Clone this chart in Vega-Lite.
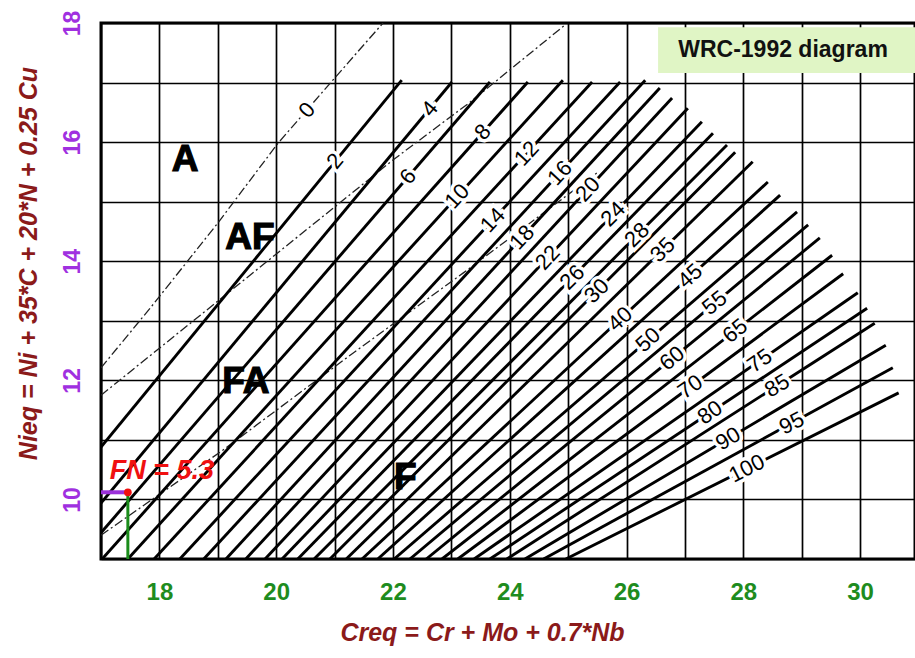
{
  "$schema": "https://vega.github.io/schema/vega-lite/v6.json",
  "width": 814,
  "height": 536,
  "autosize": {"type": "none"},
  "padding": {"left": 101, "top": 23, "right": 0, "bottom": 99},
  "background": "white",
  "config": {
    "view": {"stroke": "black", "strokeWidth": 3},
    "text": {"font": "Liberation Sans"}
  },
  "datasets": {
    "fnlines": [
      {"fn": 2, "Creq": 17.0, "Nieq": 10.88}, {"fn": 2, "Creq": 22.15, "Nieq": 17.04},
      {"fn": 4, "Creq": 17.0, "Nieq": 9.94}, {"fn": 4, "Creq": 23.01, "Nieq": 17.01},
      {"fn": 6, "Creq": 17.0, "Nieq": 9.44}, {"fn": 6, "Creq": 23.66, "Nieq": 17.01},
      {"fn": 8, "Creq": 17.02, "Nieq": 9.0}, {"fn": 8, "Creq": 24.31, "Nieq": 17.01},
      {"fn": 10, "Creq": 17.46, "Nieq": 9.0}, {"fn": 10, "Creq": 24.91, "Nieq": 17.04},
      {"fn": 12, "Creq": 17.91, "Nieq": 9.0}, {"fn": 12, "Creq": 25.41, "Nieq": 17.01},
      {"fn": 14, "Creq": 18.35, "Nieq": 9.0}, {"fn": 14, "Creq": 25.89, "Nieq": 17.01},
      {"fn": 16, "Creq": 18.76, "Nieq": 9.0}, {"fn": 16, "Creq": 26.32, "Nieq": 17.04},
      {"fn": 18, "Creq": 19.14, "Nieq": 9.0}, {"fn": 18, "Creq": 26.57, "Nieq": 16.91},
      {"fn": 20, "Creq": 19.48, "Nieq": 9.0}, {"fn": 20, "Creq": 26.78, "Nieq": 16.74},
      {"fn": 22, "Creq": 19.81, "Nieq": 9.0}, {"fn": 22, "Creq": 27.05, "Nieq": 16.57},
      {"fn": 24, "Creq": 20.10, "Nieq": 9.0}, {"fn": 24, "Creq": 27.29, "Nieq": 16.34},
      {"fn": 26, "Creq": 20.37, "Nieq": 9.0}, {"fn": 26, "Creq": 27.48, "Nieq": 16.15},
      {"fn": 28, "Creq": 20.65, "Nieq": 9.0}, {"fn": 28, "Creq": 27.72, "Nieq": 15.95},
      {"fn": 30, "Creq": 20.92, "Nieq": 9.0}, {"fn": 30, "Creq": 27.86, "Nieq": 15.83},
      {"fn": 35, "Creq": 21.20, "Nieq": 9.0}, {"fn": 35, "Creq": 28.16, "Nieq": 15.67},
      {"fn": 40, "Creq": 21.47, "Nieq": 9.0}, {"fn": 40, "Creq": 28.42, "Nieq": 15.33},
      {"fn": 45, "Creq": 21.74, "Nieq": 9.0}, {"fn": 45, "Creq": 28.63, "Nieq": 15.11},
      {"fn": 50, "Creq": 22.02, "Nieq": 9.0}, {"fn": 50, "Creq": 28.92, "Nieq": 14.83},
      {"fn": 55, "Creq": 22.29, "Nieq": 9.0}, {"fn": 55, "Creq": 29.11, "Nieq": 14.61},
      {"fn": 60, "Creq": 22.57, "Nieq": 9.0}, {"fn": 60, "Creq": 29.31, "Nieq": 14.39},
      {"fn": 65, "Creq": 22.84, "Nieq": 9.0}, {"fn": 65, "Creq": 29.52, "Nieq": 14.10},
      {"fn": 70, "Creq": 23.11, "Nieq": 9.0}, {"fn": 70, "Creq": 29.71, "Nieq": 13.79},
      {"fn": 75, "Creq": 23.39, "Nieq": 9.0}, {"fn": 75, "Creq": 29.96, "Nieq": 13.47},
      {"fn": 80, "Creq": 23.66, "Nieq": 9.0}, {"fn": 80, "Creq": 30.12, "Nieq": 13.21},
      {"fn": 85, "Creq": 23.95, "Nieq": 9.0}, {"fn": 85, "Creq": 30.25, "Nieq": 12.96},
      {"fn": 90, "Creq": 24.26, "Nieq": 9.0}, {"fn": 90, "Creq": 30.44, "Nieq": 12.59},
      {"fn": 95, "Creq": 24.58, "Nieq": 9.0}, {"fn": 95, "Creq": 30.56, "Nieq": 12.21},
      {"fn": 100, "Creq": 24.96, "Nieq": 9.0}, {"fn": 100, "Creq": 30.66, "Nieq": 11.79}
    ],
    "bounds": [
      {"b": "FN0", "Creq": 17.0, "Nieq": 12.21},
      {"b": "FN0", "Creq": 17.84, "Nieq": 13.21},
      {"b": "FN0", "Creq": 19.0, "Nieq": 14.64},
      {"b": "FN0", "Creq": 20.03, "Nieq": 15.98},
      {"b": "FN0", "Creq": 20.97, "Nieq": 17.04},
      {"b": "FN0", "Creq": 21.83, "Nieq": 18.0},
      {"b": "AF-FA", "Creq": 17.0, "Nieq": 11.75},
      {"b": "AF-FA", "Creq": 19.38, "Nieq": 13.63},
      {"b": "AF-FA", "Creq": 22.0, "Nieq": 15.7},
      {"b": "AF-FA", "Creq": 23.32, "Nieq": 16.67},
      {"b": "AF-FA", "Creq": 24.95, "Nieq": 17.97},
      {"b": "FA-F", "Creq": 17.0, "Nieq": 9.4},
      {"b": "FA-F", "Creq": 19.09, "Nieq": 10.83},
      {"b": "FA-F", "Creq": 21.32, "Nieq": 12.46},
      {"b": "FA-F", "Creq": 23.2, "Nieq": 13.8},
      {"b": "FA-F", "Creq": 25.49, "Nieq": 15.48}
    ],
    "labels": [
      {"fn": 0, "Creq": 20.53, "Nieq": 16.54},
      {"fn": 2, "Creq": 21.01, "Nieq": 15.68},
      {"fn": 4, "Creq": 22.63, "Nieq": 16.56},
      {"fn": 6, "Creq": 22.26, "Nieq": 15.42},
      {"fn": 8, "Creq": 23.54, "Nieq": 16.17},
      {"fn": 10, "Creq": 23.10, "Nieq": 15.09},
      {"fn": 12, "Creq": 24.29, "Nieq": 15.81},
      {"fn": 14, "Creq": 23.71, "Nieq": 14.69},
      {"fn": 16, "Creq": 24.86, "Nieq": 15.48},
      {"fn": 18, "Creq": 24.21, "Nieq": 14.40},
      {"fn": 20, "Creq": 25.34, "Nieq": 15.21},
      {"fn": 22, "Creq": 24.65, "Nieq": 14.06},
      {"fn": 24, "Creq": 25.77, "Nieq": 14.79},
      {"fn": 26, "Creq": 25.07, "Nieq": 13.73},
      {"fn": 28, "Creq": 26.18, "Nieq": 14.44},
      {"fn": 30, "Creq": 25.49, "Nieq": 13.50},
      {"fn": 35, "Creq": 26.62, "Nieq": 14.19},
      {"fn": 40, "Creq": 25.89, "Nieq": 13.03},
      {"fn": 45, "Creq": 27.09, "Nieq": 13.75},
      {"fn": 50, "Creq": 26.37, "Nieq": 12.68},
      {"fn": 55, "Creq": 27.51, "Nieq": 13.30},
      {"fn": 60, "Creq": 26.78, "Nieq": 12.37},
      {"fn": 65, "Creq": 27.86, "Nieq": 12.83},
      {"fn": 70, "Creq": 27.09, "Nieq": 11.89},
      {"fn": 75, "Creq": 28.28, "Nieq": 12.33},
      {"fn": 80, "Creq": 27.43, "Nieq": 11.46},
      {"fn": 85, "Creq": 28.58, "Nieq": 11.91},
      {"fn": 90, "Creq": 27.74, "Nieq": 11.02},
      {"fn": 95, "Creq": 28.83, "Nieq": 11.28},
      {"fn": 100, "Creq": 28.06, "Nieq": 10.52}
    ],
    "regions": [
      {"t": "A", "Creq": 18.44, "Nieq": 15.70},
      {"t": "AF", "Creq": 19.55, "Nieq": 14.39},
      {"t": "FA", "Creq": 19.48, "Nieq": 11.97},
      {"t": "F", "Creq": 22.21, "Nieq": 10.36}
    ]
  },
  "encoding": {
    "x": {
      "field": "Creq", "type": "quantitative",
      "scale": {"domain": [17, 30.94], "nice": false, "zero": false},
      "axis": {
        "values": [17, 18, 19, 20, 21, 22, 23, 24, 25, 26, 27, 28, 29, 30],
        "grid": true, "gridColor": "black", "gridWidth": 1.7, "gridOpacity": 1,
        "ticks": false, "domain": false,
        "labelExpr": "datum.value % 2 === 0 ? datum.label : ''",
        "labelFont": "Liberation Sans", "labelFontWeight": "bold", "labelFontSize": 24,
        "labelColor": "#1e8c1e", "labelPadding": 33, "labelBaseline": "middle",
        "labelOverlap": false, "labelFlush": false,
        "title": "Creq = Cr + Mo + 0.7*Nb",
        "titleFont": "Liberation Sans", "titleFontStyle": "italic", "titleFontWeight": "bold",
        "titleFontSize": 25, "titleColor": "#8b1a1a",
        "titleX": 381, "titleY": 73, "titleAlign": "center", "titleBaseline": "middle"
      }
    },
    "y": {
      "field": "Nieq", "type": "quantitative",
      "scale": {"domain": [9, 18], "nice": false, "zero": false},
      "axis": {
        "values": [9, 10, 11, 12, 13, 14, 15, 16, 17, 18],
        "grid": true, "gridColor": "black", "gridWidth": 1.7, "gridOpacity": 1,
        "ticks": false, "domain": false,
        "labelExpr": "datum.value % 2 === 0 ? datum.label : ''",
        "labelFont": "Liberation Sans", "labelFontWeight": "bold", "labelFontSize": 23,
        "labelColor": "#a030e0", "labelPadding": 29, "labelAngle": -90,
        "labelAlign": "center", "labelBaseline": "middle",
        "labelOverlap": false, "labelFlush": false,
        "title": "Nieq = Ni + 35*C + 20*N + 0.25 Cu",
        "titleFont": "Liberation Sans", "titleFontStyle": "italic", "titleFontWeight": "bold",
        "titleFontSize": 25, "titleColor": "#8b1a1a", "titleAngle": -90,
        "titleX": -73, "titleY": 240, "titleAlign": "center", "titleBaseline": "middle"
      }
    }
  },
  "layer": [
    {
      "data": {"values": [{"Creq": 26.54, "Creq2": 31, "Nieq": 17.93, "Nieq2": 17.16}]},
      "mark": {"type": "rect", "fill": "#e0f5c5", "clip": true},
      "encoding": {"x2": {"field": "Creq2"}, "y2": {"field": "Nieq2"}}
    },
    {
      "data": {"values": [{"Creq": 28.68, "Nieq": 17.55, "t": "WRC-1992 diagram"}]},
      "mark": {"type": "text", "font": "Liberation Sans", "fontWeight": "bold", "fontSize": 23, "color": "#111111", "align": "center", "baseline": "middle"},
      "encoding": {"text": {"field": "t"}}
    },
    {
      "data": {"name": "bounds"},
      "mark": {"type": "line", "color": "#222222", "strokeWidth": 1.3, "strokeDash": [9, 3, 2, 3], "clip": true},
      "encoding": {"detail": {"field": "b"}}
    },
    {
      "data": {"name": "fnlines"},
      "mark": {"type": "line", "color": "black", "strokeWidth": 2.9, "clip": true},
      "encoding": {"detail": {"field": "fn"}}
    },
    {
      "data": {"name": "labels"},
      "transform": [{"filter": {"field": "fn", "oneOf": [0, 2, 4, 6]}}],
      "layer": [
        {"mark": {"type": "text", "angle": -50, "fontSize": 22, "fill": "white", "stroke": "white", "strokeWidth": 7, "align": "center", "baseline": "middle"}, "encoding": {"text": {"field": "fn", "type": "quantitative"}}},
        {"mark": {"type": "text", "angle": -50, "fontSize": 22, "color": "black", "align": "center", "baseline": "middle"}, "encoding": {"text": {"field": "fn", "type": "quantitative"}}}
      ]
    },
    {
      "data": {"name": "labels"},
      "transform": [{"filter": {"field": "fn", "oneOf": [8, 10, 12, 14, 16, 18, 20, 22]}}],
      "layer": [
        {"mark": {"type": "text", "angle": -47, "fontSize": 22, "fill": "white", "stroke": "white", "strokeWidth": 7, "align": "center", "baseline": "middle"}, "encoding": {"text": {"field": "fn", "type": "quantitative"}}},
        {"mark": {"type": "text", "angle": -47, "fontSize": 22, "color": "black", "align": "center", "baseline": "middle"}, "encoding": {"text": {"field": "fn", "type": "quantitative"}}}
      ]
    },
    {
      "data": {"name": "labels"},
      "transform": [{"filter": {"field": "fn", "oneOf": [24, 26, 28, 30, 35]}}],
      "layer": [
        {"mark": {"type": "text", "angle": -45, "fontSize": 22, "fill": "white", "stroke": "white", "strokeWidth": 7, "align": "center", "baseline": "middle"}, "encoding": {"text": {"field": "fn", "type": "quantitative"}}},
        {"mark": {"type": "text", "angle": -45, "fontSize": 22, "color": "black", "align": "center", "baseline": "middle"}, "encoding": {"text": {"field": "fn", "type": "quantitative"}}}
      ]
    },
    {
      "data": {"name": "labels"},
      "transform": [{"filter": {"field": "fn", "oneOf": [40, 45, 50]}}],
      "layer": [
        {"mark": {"type": "text", "angle": -42, "fontSize": 22, "fill": "white", "stroke": "white", "strokeWidth": 7, "align": "center", "baseline": "middle"}, "encoding": {"text": {"field": "fn", "type": "quantitative"}}},
        {"mark": {"type": "text", "angle": -42, "fontSize": 22, "color": "black", "align": "center", "baseline": "middle"}, "encoding": {"text": {"field": "fn", "type": "quantitative"}}}
      ]
    },
    {
      "data": {"name": "labels"},
      "transform": [{"filter": {"field": "fn", "oneOf": [55, 60, 65]}}],
      "layer": [
        {"mark": {"type": "text", "angle": -39, "fontSize": 22, "fill": "white", "stroke": "white", "strokeWidth": 7, "align": "center", "baseline": "middle"}, "encoding": {"text": {"field": "fn", "type": "quantitative"}}},
        {"mark": {"type": "text", "angle": -39, "fontSize": 22, "color": "black", "align": "center", "baseline": "middle"}, "encoding": {"text": {"field": "fn", "type": "quantitative"}}}
      ]
    },
    {
      "data": {"name": "labels"},
      "transform": [{"filter": {"field": "fn", "oneOf": [70, 75, 80]}}],
      "layer": [
        {"mark": {"type": "text", "angle": -35, "fontSize": 22, "fill": "white", "stroke": "white", "strokeWidth": 7, "align": "center", "baseline": "middle"}, "encoding": {"text": {"field": "fn", "type": "quantitative"}}},
        {"mark": {"type": "text", "angle": -35, "fontSize": 22, "color": "black", "align": "center", "baseline": "middle"}, "encoding": {"text": {"field": "fn", "type": "quantitative"}}}
      ]
    },
    {
      "data": {"name": "labels"},
      "transform": [{"filter": {"field": "fn", "oneOf": [85, 90]}}],
      "layer": [
        {"mark": {"type": "text", "angle": -31, "fontSize": 22, "fill": "white", "stroke": "white", "strokeWidth": 7, "align": "center", "baseline": "middle"}, "encoding": {"text": {"field": "fn", "type": "quantitative"}}},
        {"mark": {"type": "text", "angle": -31, "fontSize": 22, "color": "black", "align": "center", "baseline": "middle"}, "encoding": {"text": {"field": "fn", "type": "quantitative"}}}
      ]
    },
    {
      "data": {"name": "labels"},
      "transform": [{"filter": {"field": "fn", "oneOf": [95, 100]}}],
      "layer": [
        {"mark": {"type": "text", "angle": -27, "fontSize": 22, "fill": "white", "stroke": "white", "strokeWidth": 7, "align": "center", "baseline": "middle"}, "encoding": {"text": {"field": "fn", "type": "quantitative"}}},
        {"mark": {"type": "text", "angle": -27, "fontSize": 22, "color": "black", "align": "center", "baseline": "middle"}, "encoding": {"text": {"field": "fn", "type": "quantitative"}}}
      ]
    },
    {
      "data": {"name": "regions"},
      "mark": {"type": "text", "font": "Liberation Sans", "fontWeight": "bold", "fontSize": 37, "color": "black", "stroke": "black", "strokeWidth": 1.2, "align": "center", "baseline": "middle"},
      "encoding": {"text": {"field": "t"}}
    },
    {
      "data": {"values": [{"Creq": 17.0, "Creq2": 17.46, "Nieq": 10.12}]},
      "mark": {"type": "rule", "color": "#9b30d9", "strokeWidth": 4},
      "encoding": {"x2": {"field": "Creq2"}}
    },
    {
      "data": {"values": [{"Creq": 17.46, "Nieq": 9.0, "Nieq2": 10.12}]},
      "mark": {"type": "rule", "color": "#1a8c1a", "strokeWidth": 3},
      "encoding": {"y2": {"field": "Nieq2"}}
    },
    {
      "data": {"values": [{"Creq": 17.46, "Nieq": 10.12}]},
      "mark": {"type": "point", "filled": true, "color": "#f01010", "size": 60, "opacity": 1},
      "encoding": {}
    },
    {
      "data": {"values": [{"Creq": 17.15, "Nieq": 10.48, "t": "FN = 5.3"}]},
      "mark": {"type": "text", "font": "Liberation Sans", "fontWeight": "bold", "fontStyle": "italic", "fontSize": 27, "color": "#f01010", "align": "left", "baseline": "middle"},
      "encoding": {"text": {"field": "t"}}
    }
  ]
}
